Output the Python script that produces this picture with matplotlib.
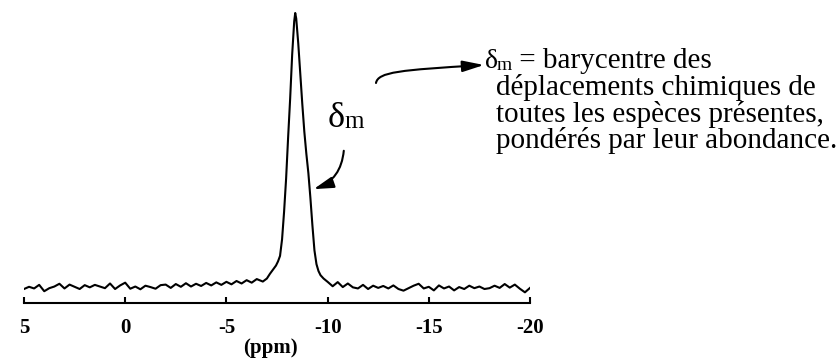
import matplotlib
matplotlib.use("Agg")
import matplotlib.pyplot as plt
from matplotlib.patches import FancyArrowPatch
from matplotlib.path import Path

# ---- data (ppm, relative intensity) ----
ppm = [5.0, 4.75, 4.5, 4.25, 4.0, 3.75, 3.5, 3.25, 3.0, 2.75, 2.5, 2.25, 2.0, 1.75,
       1.5, 1.25, 1.0, 0.75, 0.5, 0.25, 0.0, -0.25, -0.5, -0.75, -1.0, -1.25, -1.5,
       -1.75, -2.0, -2.25, -2.5, -2.75, -3.0, -3.25, -3.5, -3.75, -4.0, -4.25, -4.5,
       -4.75, -5.0, -5.25, -5.5, -5.75, -6.0, -6.25, -6.5, -6.8, -7.0, -7.15, -7.3,
       -7.45, -7.55, -7.65, -7.75, -7.85, -7.95, -8.05, -8.15, -8.25, -8.35, -8.4,
       -8.45, -8.55, -8.65, -8.75, -8.85, -8.95, -9.05, -9.15, -9.25, -9.35, -9.45,
       -9.55, -9.65, -9.8, -10.0, -10.25, -10.5, -10.75, -11.0, -11.25, -11.5, -11.75,
       -12.0, -12.25, -12.5, -12.75, -13.0, -13.25, -13.5, -13.75, -14.0, -14.25,
       -14.5, -14.75, -15.0, -15.25, -15.5, -15.75, -16.0, -16.25, -16.5, -16.75,
       -17.0, -17.25, -17.5, -17.75, -18.0, -18.25, -18.5, -18.75, -19.0, -19.25,
       -19.5, -19.75, -20.0]
intensity = [0.0, 0.8, 0.2, 1.5, -0.8, 0.3, 0.9, 1.9, 0.2, 1.6, 0.8, 0.0, 1.4, 0.6,
             1.5, 0.9, 0.3, 2.0, 0.0, 1.3, 2.3, 0.1, 0.9, -0.1, 1.2, 0.7, 0.1,
             1.4, 1.6, 0.4, 1.8, 0.8, 2.1, 0.9, 1.9, 1.1, 2.2, 1.3, 2.4,
             1.5, 2.6, 1.7, 2.9, 2.0, 3.2, 2.3, 3.6, 2.7, 3.8, 5.5, 7.0,
             8.5, 10.0, 12.0, 18.0, 28.0, 40.0, 55.0, 69.0, 85.0, 97.0, 100.0,
             98.0, 89.0, 78.0, 67.0, 57.0, 49.0, 42.0, 33.0, 23.0, 14.0, 9.0,
             6.5, 5.0, 3.8, 2.6, 1.0, 2.5, 0.7, 2.0, 0.6, 0.2, 1.5,
             0.0, 1.2, 0.4, 1.1, 0.2, 1.3, 0.0, -0.6, 0.3, 1.2,
             1.9, 0.2, 0.8, -0.5, 1.3, 0.2, 0.9, -0.5, 0.7, 0.0,
             1.2, 0.3, 0.9, 0.0, 0.3, 1.2, 0.4, 1.8, 0.5, 1.6,
             0.1, -1.2, 0.4]

tick_values = [5, 0, -5, -10, -15, -20]
tick_labels = ["5", "0", "-5", "-10", "-15", "-20"]
x_label = "(ppm)"
peak_label = ("δ", "m")
note_first = ("δ", "m", " = barycentre des")
note_lines = ["déplacements chimiques de",
              "toutes les espèces présentes,",
              "pondérés par leur abondance."]

SERIF = "Liberation Serif"
W, H = 840, 359

fig = plt.figure(figsize=(W / 100, H / 100), dpi=100)
ax = fig.add_axes([24 / W, (H - 303) / H, (530 - 24) / W, (303 - 10) / H])

ax.plot(ppm, intensity, color="black", lw=1.5, solid_joinstyle="round")
ax.set_xlim(5, -20)
ax.set_ylim(-5.07, 101.09)

for s in ("left", "right", "top"):
    ax.spines[s].set_visible(False)
ax.spines["bottom"].set_linewidth(1.5)
ax.set_yticks([])
ax.set_xticks(tick_values)
ax.set_xticklabels(tick_labels, fontfamily=SERIF, fontweight="bold", fontsize=15)
ax.tick_params(axis="x", direction="in", length=4, width=1.5, pad=11)
ax.set_xlabel(x_label, fontfamily=SERIF, fontweight="bold", fontsize=15)
ax.xaxis.set_label_coords((270 - 24) / (530 - 24), -0.12)


def px(x, y):
    return (x / W, (H - y) / H)


renderer = fig.canvas.get_renderer()


def right_edge(t):
    bb = t.get_window_extent(renderer=renderer)
    return bb.x1


# big delta_m label near the peak
t = fig.text(*px(328, 127), peak_label[0], fontfamily=SERIF, fontsize=26, va="baseline", ha="left")
xr = right_edge(t)
fig.text(xr / W - 1 / W, (H - 128) / H, peak_label[1], fontfamily=SERIF, fontsize=18,
         va="baseline", ha="left")

# explanatory note
t = fig.text(*px(485, 68), note_first[0], fontfamily=SERIF, fontsize=20, va="baseline", ha="left")
xr = right_edge(t)
t = fig.text(xr / W - 1 / W, (H - 70) / H, note_first[1], fontfamily=SERIF, fontsize=14,
             va="baseline", ha="left")
xr = right_edge(t)
fig.text(xr / W, (H - 68) / H, note_first[2], fontfamily=SERIF, fontsize=21,
         va="baseline", ha="left")
for i, line in enumerate(note_lines):
    fig.text(*px(496, 95 + 26.5 * i), line, fontfamily=SERIF, fontsize=21,
             va="baseline", ha="left")

# curved arrow pointing to the note
verts = [px(376, 83), px(378, 72), px(400, 70), px(484, 65)]
path = Path(verts, [Path.MOVETO, Path.CURVE4, Path.CURVE4, Path.CURVE4])
arr1 = FancyArrowPatch(path=path, transform=fig.transFigure,
                       arrowstyle="-|>,head_length=0.65,head_width=0.17",
                       mutation_scale=20, lw=1.5, color="black")
fig.add_artist(arr1)

# curved arrow pointing at the peak
arr2 = FancyArrowPatch(px(344, 148), px(311, 190), transform=fig.transFigure,
                       connectionstyle="arc3,rad=-0.35",
                       arrowstyle="-|>,head_length=0.6,head_width=0.17",
                       mutation_scale=20, lw=1.5, color="black")
fig.add_artist(arr2)

fig.savefig("out.png", dpi=100)
